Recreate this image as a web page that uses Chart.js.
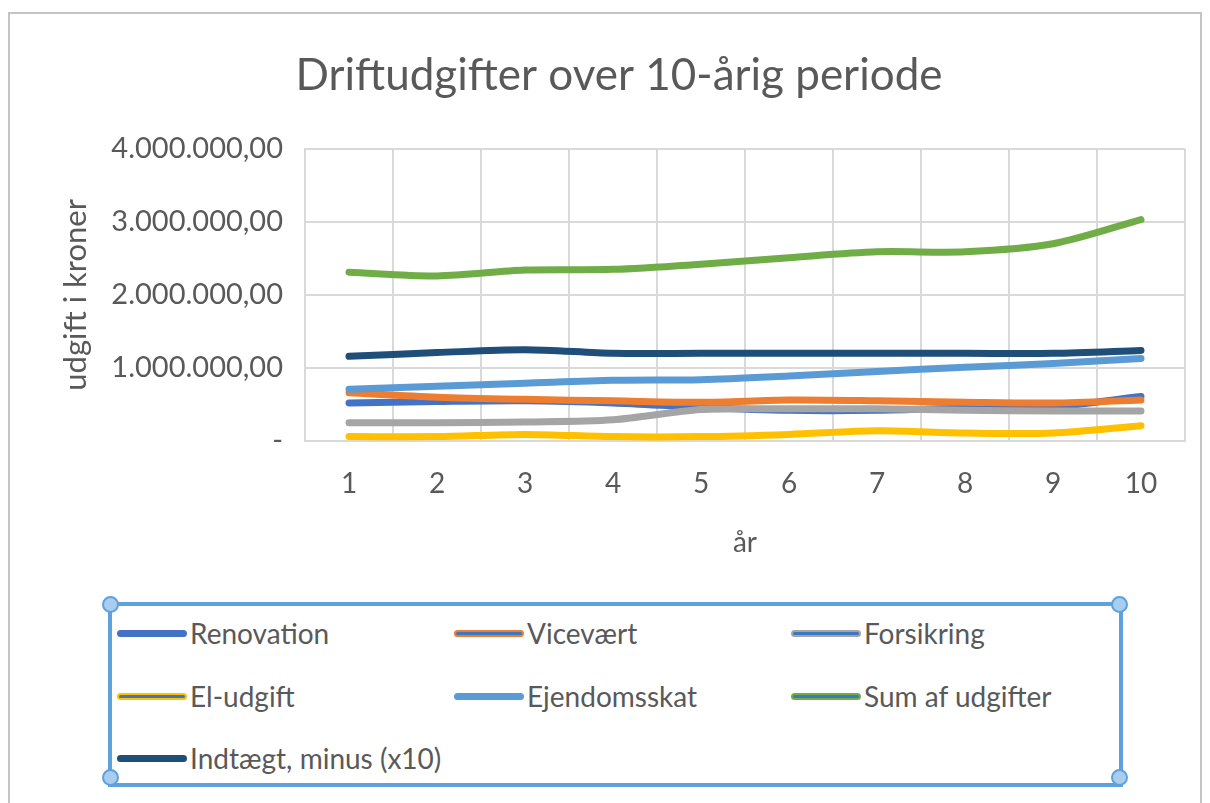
<!DOCTYPE html>
<html>
<head>
<meta charset="utf-8">
<script src="https://cdn.jsdelivr.net/npm/chart.js@4"></script>
<style>
  body { margin: 0; background: #fff; font-family: Lato, sans-serif; }
  #wrap { position: relative; width: 1210px; height: 803px; overflow: hidden; }
  #frame { position: absolute; left: 8px; top: 12px; width: 1190px; height: 830px; border: 2px solid #c4c4c4; }
  #driftChart { position: absolute; left: 0; top: 0; }
  #legendBox { position: absolute; left: 108px; top: 602px; width: 1007px; height: 177px; border: 4px solid #5ea1db; }
  .handle { position: absolute; width: 13px; height: 13px; border-radius: 50%; background: #a9cdee; border: 2px solid #5ea1db; }
  .item { position: absolute; height: 34px; display: flex; align-items: center; color: #595959; font-size: 28px; white-space: nowrap; }
  .swatch { width: 66px; height: 3px; border-radius: 4px; margin-right: 3px; }
</style>
</head>
<body>
<div id="wrap">
  <div id="frame"></div>
  <canvas id="driftChart" width="1210" height="590"></canvas>
  <div id="legendBox"></div>
</div>
<script>
const years = ["1", "2", "3", "4", "5", "6", "7", "8", "9", "10"];

const renovation    = [520000, 540000, 550000, 520000, 460000, 420000, 420000, 450000, 470000, 610000];
const vicevaert     = [660000, 600000, 570000, 550000, 530000, 560000, 550000, 530000, 520000, 560000];
const forsikring    = [250000, 250000, 260000, 290000, 430000, 440000, 440000, 420000, 410000, 410000];
const elUdgift      = [60000, 60000, 90000, 60000, 60000, 90000, 140000, 110000, 110000, 210000];
const ejendomsskat  = [710000, 750000, 790000, 830000, 840000, 890000, 950000, 1010000, 1060000, 1130000];
const sumUdgifter   = [2310000, 2260000, 2340000, 2350000, 2420000, 2510000, 2590000, 2590000, 2700000, 3030000];
const indtaegt      = [1160000, 1210000, 1250000, 1200000, 1200000, 1200000, 1200000, 1200000, 1200000, 1240000];

const seriesNames  = ["Renovation", "Vicevært", "Forsikring", "El-udgift", "Ejendomsskat", "Sum af udgifter", "Indtægt, minus (x10)"];
const seriesData   = [renovation, vicevaert, forsikring, elUdgift, ejendomsskat, sumUdgifter, indtaegt];
const seriesColors = ["#4472c4", "#ed7d31", "#a5a5a5", "#ffc000", "#5b9bd5", "#70ad47", "#1f4e79"];

const textGrey = "#595959";
const gridGrey = "#d9d9d9";

// 4000000 -> "4.000.000,00", 0 -> "-"
function kroner(v) {
    if (v === 0) return "-";
    return String(v).replace(/\B(?=(\d{3})+(?!\d))/g, ".") + ",00";
}

const datasets = seriesNames.map((name, i) => {
    return {
        label: name,
        data: seriesData[i],
        borderColor: seriesColors[i],
        backgroundColor: seriesColors[i],
        borderWidth: 7,
        borderCapStyle: "round",
        pointRadius: 0,
        tension: 0.3,
        order: seriesNames.length - i
    };
});

let driftChart = new Chart(document.getElementById("driftChart"), {
    type: "line",
    data: { labels: years, datasets: datasets },
    options: {
        responsive: false,
        animation: false,
        layout: { padding: { left: 53, right: 25, top: 0, bottom: 0 } },
        plugins: {
            legend: { display: false },
            tooltip: { enabled: false },
            title: {
                display: true,
                text: "Driftudgifter over 10-årig periode",
                color: textGrey,
                font: { family: "Lato", size: 44, weight: "normal" },
                padding: { top: 49, bottom: 47 }
            }
        },
        scales: {
            x: {
                offset: true,
                grid: { offset: true, color: gridGrey, lineWidth: 2, drawTicks: false },
                border: { color: gridGrey, width: 2 },
                ticks: { color: textGrey, padding: 26, font: { family: "Lato", size: 28 } },
                title: {
                    display: true,
                    text: "år",
                    color: textGrey,
                    font: { family: "Lato", size: 28 },
                    padding: { top: 4, bottom: 30 }
                },
                afterFit: (scale) => { scale.height = 149; }
            },
            y: {
                min: 0,
                max: 4000000,
                grid: { color: gridGrey, lineWidth: 2, drawTicks: false },
                border: { color: gridGrey, width: 2 },
                ticks: {
                    stepSize: 1000000,
                    color: textGrey,
                    padding: 22,
                    font: { family: "Lato", size: 29 },
                    callback: (v) => kroner(v)
                },
                title: {
                    display: true,
                    text: "udgift i kroner",
                    color: textGrey,
                    font: { family: "Lato", size: 31 },
                    padding: { top: 4, bottom: 4 }
                },
                afterFit: (scale) => { scale.width = 252; }
            }
        }
    }
});

// legend in three columns, like the Excel legend box
const legendBox = document.getElementById("legendBox");
const colX = [5, 342, 679];
const rowY = [10, 73, 135];
const innerBlue = "#3a78c2";
seriesNames.forEach((name, i) => {
    const item = document.createElement("div");
    item.className = "item";
    item.style.left = colX[i % 3] + "px";
    item.style.top = rowY[Math.floor(i / 3)] + "px";
    const sw = document.createElement("div");
    sw.className = "swatch";
    const solid = [0, 4, 6].includes(i);
    sw.style.background = solid ? seriesColors[i] : innerBlue;
    sw.style.border = "2px solid " + seriesColors[i];
    item.appendChild(sw);
    item.appendChild(document.createTextNode(name));
    legendBox.appendChild(item);
});
[[-10, -10], [999, -10], [-10, 163], [999, 163]].forEach(p => {
    const h = document.createElement("div");
    h.className = "handle";
    h.style.left = p[0] + "px";
    h.style.top = p[1] + "px";
    legendBox.appendChild(h);
});
</script>
</body>
</html>
